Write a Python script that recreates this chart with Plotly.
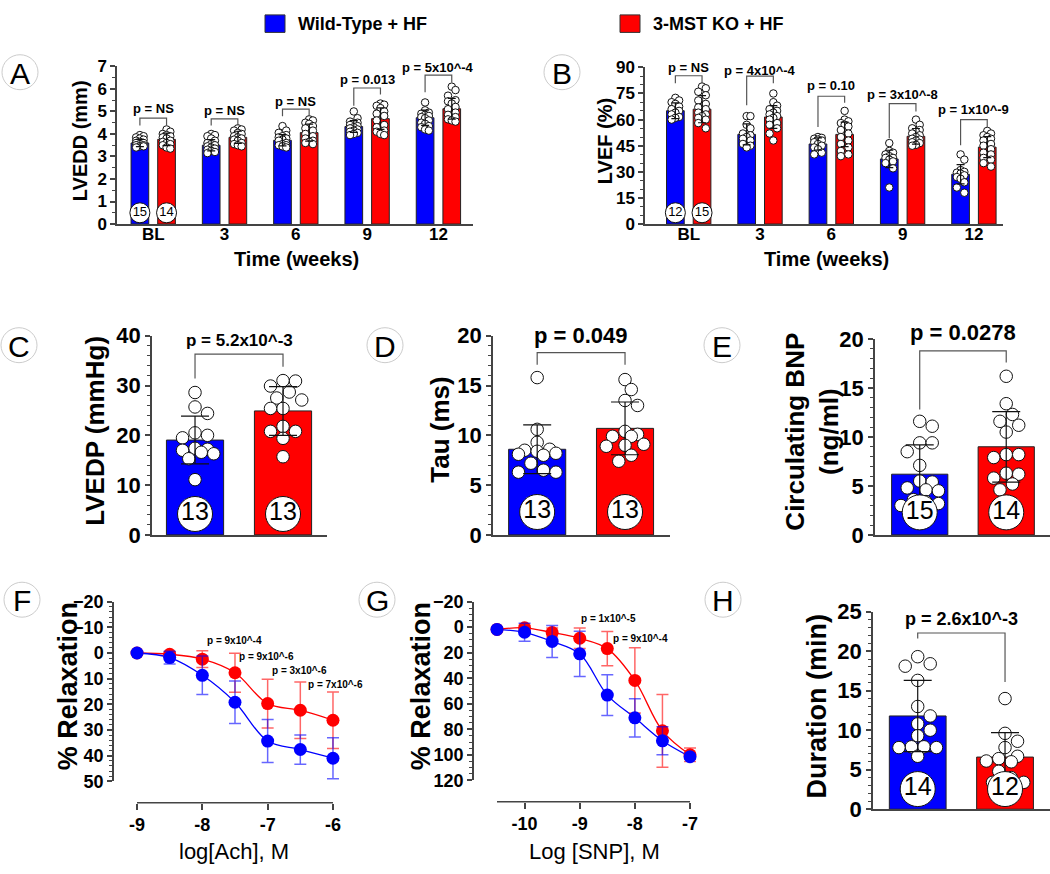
import plotly.graph_objects as go

W, H = 1050, 874
FONT = "Arial, 'Liberation Sans', Helvetica, sans-serif"
BLUE = "#0000FF"
RED = "#FF0000"
AX = "#444444"

# ---------------- data ----------------
groups = ["Wild-Type + HF", "3-MST KO + HF"]
weeks = ["BL", "3", "6", "9", "12"]

# A: LVEDD (mm)
lvedd_wt_mean = [3.60, 3.50, 3.72, 4.33, 4.72]
lvedd_ko_mean = [3.76, 3.85, 4.06, 4.68, 5.12]
lvedd_wt_sd = [0.16, 0.25, 0.25, 0.26, 0.34]
lvedd_ko_sd = [0.28, 0.27, 0.38, 0.48, 0.46]
lvedd_wt_pts = [
    [3.95, 3.9, 3.85, 3.8, 3.75, 3.7, 3.65, 3.6, 3.6, 3.55, 3.5, 3.5, 3.45, 3.45, 3.4],
    [4.0, 3.95, 3.9, 3.8, 3.7, 3.6, 3.55, 3.5, 3.45, 3.4, 3.35, 3.3, 3.25, 3.2, 3.15],
    [4.35, 4.15, 4.05, 3.95, 3.9, 3.85, 3.8, 3.75, 3.7, 3.6, 3.55, 3.5, 3.5, 3.45, 3.4],
    [5.0, 4.7, 4.55, 4.5, 4.45, 4.4, 4.35, 4.3, 4.25, 4.2, 4.15, 4.1, 4.05, 4.0, 3.95],
    [5.4, 5.05, 4.95, 4.9, 4.85, 4.8, 4.75, 4.7, 4.6, 4.5, 4.45, 4.35, 4.3, 4.2, 4.15],
]
lvedd_ko_pts = [
    [4.2, 4.1, 4.0, 3.95, 3.9, 3.85, 3.8, 3.7, 3.65, 3.6, 3.55, 3.5, 3.4, 3.35],
    [4.25, 4.2, 4.15, 4.05, 4.0, 3.9, 3.85, 3.8, 3.75, 3.7, 3.6, 3.55, 3.5, 3.45],
    [4.65, 4.6, 4.5, 4.45, 4.35, 4.25, 4.15, 4.0, 3.9, 3.8, 3.7, 3.65, 3.6, 3.55],
    [5.35, 5.3, 5.25, 5.15, 5.0, 4.9, 4.8, 4.6, 4.4, 4.3, 4.15, 4.1, 4.0, 3.95],
    [6.1, 5.95, 5.7, 5.5, 5.45, 5.35, 5.2, 5.1, 4.95, 4.85, 4.75, 4.65, 4.6, 4.55],
]
lvedd_p = ["p = NS", "p = NS", "p = NS", "p = 0.013", "p = 5x10^-4"]
lvedd_n = [15, 14]

# B: LVEF (%)
lvef_wt_mean = [65.1, 51.5, 46.0, 37.4, 28.6]
lvef_ko_mean = [66.0, 61.5, 51.5, 50.4, 44.2]
lvef_wt_sd = [4.5, 6.0, 3.5, 5.0, 5.5]
lvef_ko_sd = [7.8, 6.5, 7.0, 4.5, 6.0]
lvef_wt_pts = [
    [72.5, 71, 70, 69, 67.5, 66, 65, 64, 63, 61.5, 61, 60],
    [62, 62, 57, 55, 52, 51, 50, 49, 48, 46, 45, 44],
    [50, 49.5, 49, 48.5, 48, 47, 46, 45, 44, 43, 41, 40],
    [46.5, 42, 41, 40, 39, 38, 38, 37, 36, 35, 32, 21],
    [40, 37, 31, 30, 29.5, 29, 28, 27, 26, 24, 21, 18],
]
lvef_ko_pts = [
    [79, 78, 76, 74, 71, 69, 67, 66, 64, 63, 62, 61, 60, 58, 55],
    [75, 70, 68, 66, 65, 64, 63, 62, 61, 60, 58, 57, 55, 52, 48],
    [65, 60, 59, 58, 57, 56, 54, 52, 50, 48, 46, 44, 42, 40, 39],
    [60, 57, 55, 54, 53, 52, 51, 50, 49, 48.5, 48, 47, 46.5, 45.5, 45],
    [53.5, 52, 51, 50, 49, 48, 46, 45, 43, 41, 40, 38, 37, 35, 33],
]
lvef_p = ["p = NS", "p = 4x10^-4", "p = 0.10", "p = 3x10^-8", "p = 1x10^-9"]
lvef_n = [12, 15]

# C: LVEDP (mmHg)
lvedp_mean = [19.05, 24.9]
lvedp_sd = [4.8, 4.9]
lvedp_wt_pts = [28.6, 25.7, 24.4, 20.5, 20.0, 19.5, 17.4, 17.2, 17.0, 16.6, 16.3, 15.3, 11.1]
lvedp_ko_pts = [30.9, 31.0, 29.9, 28.7, 27.5, 27.1, 25.4, 25.4, 21.8, 20.8, 20.8, 19.4, 15.7]
lvedp_p = "p = 5.2x10^-3"
lvedp_n = [13, 13]

# D: Tau (ms)
tau_mean = [8.6, 10.7]
tau_sd = [2.45, 2.65]
tau_wt_pts = [15.8, 10.6, 9.3, 8.6, 8.5, 8.4, 8.2, 8.0, 8.1, 7.2, 6.5, 6.3, 6.3]
tau_ko_pts = [15.6, 14.6, 13.5, 13.0, 10.4, 10.1, 9.9, 9.9, 9.0, 8.9, 9.1, 8.0, 7.4]
tau_p = "p = 0.049"
tau_n = [13, 13]

# E: Circulating BNP (ng/ml)
bnp_mean = [6.2, 9.0]
bnp_sd = [3.0, 3.6]
bnp_wt_pts = [11.6, 11.1, 9.4, 9.4, 8.5, 7.1, 5.5, 5.4, 4.8, 4.6, 4.5, 3.6, 3.4, 3.2, 3.0]
bnp_ko_pts = [16.2, 13.4, 12.3, 11.6, 11.2, 10.5, 8.2, 8.2, 7.9, 6.3, 6.2, 5.8, 5.2, 4.6]
bnp_p = "p = 0.0278"
bnp_n = [15, 14]

# F: Ach relaxation
ach_logM = [-9, -8.5, -8, -7.5, -7, -6.5, -6]
ach_wt = [0, 1.8, 8.7, 19.2, 34.3, 37.6, 41.0]
ach_wt_sd = [0.5, 2.5, 7.5, 8.3, 8.4, 5.7, 8.0]
ach_ko = [0, 0.5, 2.4, 7.7, 19.7, 22.3, 26.2]
ach_ko_sd = [0.5, 1.0, 3.3, 7.6, 9.5, 11.0, 11.0]
ach_p = ["p = 9x10^-4", "p = 9x10^-6", "p = 3x10^-6", "p = 7x10^-6"]

# G: SNP relaxation
snp_logM = [-10.5, -10, -9.5, -9, -8.5, -8, -7.5, -7]
snp_wt = [1.8, 4.0, 11.2, 20.9, 53.2, 71.0, 89.0, 101.5]
snp_wt_sd = [0.5, 7.0, 12.5, 17.8, 16.0, 15.0, 11.0, 2.0]
snp_ko = [1.8, 0.5, 4.2, 8.7, 16.8, 41.7, 81.2, 100.0]
snp_ko_sd = [0.5, 2.0, 3.5, 8.0, 13.5, 25.5, 28.5, 5.3]
snp_p = ["p = 1x10^-5", "p = 9x10^-4"]

# H: Duration (min)
dur_mean = [11.8, 6.6]
dur_sd = [4.5, 3.1]
dur_wt_pts = [19.3, 18.4, 18.1, 16.3, 13.0, 11.8, 10.8, 10.0, 9.3, 7.9, 7.9, 7.8, 7.8, 6.7]
dur_ko_pts = [14.0, 9.6, 8.6, 7.8, 6.7, 6.4, 6.1, 6.0, 4.8, 4.0, 3.4, 3.4]
dur_p = "p = 2.6x10^-3"
dur_n = [14, 12]

# ---------------- helpers ----------------
fig = go.Figure()


def ax_names(k):
    return ("x", "y") if k == 1 else (f"x{k}", f"y{k}")


def px_x(p):
    return p / W


def px_y(p):
    return (H - p) / H


def swarm_offsets(vals, ppx, ppy, d, wmax):
    n = len(vals)
    order = sorted(range(n), key=lambda i: -vals[i])
    step = d * 0.5
    cands = [0.0]
    k = 1
    while k * step <= wmax + 1e-9:
        cands += [k * step, -k * step]
        k += 1
    placed = []
    offs = [0.0] * n
    for i in order:
        yp = vals[i] * ppy
        best, bestd = 0.0, -1.0
        for c in cands:
            md = min((((c - px) ** 2 + (yp - py) ** 2) ** 0.5 for px, py in placed), default=1e9)
            if md >= d * 0.95:
                best = c
                break
            if md > bestd:
                bestd, best = md, c
        offs[i] = best / ppx
        placed.append((best, yp))
    return offs


def add_bars(k, centers, off, bw, wt_m, ko_m, wt_sd, ko_sd, wt_pts, ko_pts,
             ppx, ppy, dot, wmax, cap, nlab, ny, nsize, nfont):
    xa, ya = ax_names(k)
    xb = [c - off for c in centers]
    xr = [c + off for c in centers]
    for xs, m, col in ((xb, wt_m, BLUE), (xr, ko_m, RED)):
        fig.add_trace(go.Bar(x=xs, y=m, width=bw,
                             marker=dict(color=col, line=dict(color="#222", width=1)),
                             xaxis=xa, yaxis=ya, showlegend=False, hoverinfo="skip"))
    dx, dy = [], []
    for xs, pts in ((xb, wt_pts), (xr, ko_pts)):
        for x0, vals in zip(xs, pts):
            offs = swarm_offsets(vals, ppx, ppy, dot, wmax)
            dx += [x0 + o for o in offs]
            dy += list(vals)
    fig.add_trace(go.Scatter(x=dx, y=dy, mode="markers", cliponaxis=False,
                             marker=dict(size=dot, color="white", line=dict(color="#111", width=1)),
                             xaxis=xa, yaxis=ya, showlegend=False, hoverinfo="skip"))
    fig.add_trace(go.Scatter(x=xb + xr, y=list(wt_m) + list(ko_m), mode="markers",
                             marker=dict(size=1, color="rgba(0,0,0,0)"),
                             error_y=dict(type="data", array=list(wt_sd) + list(ko_sd),
                                          color="#111", thickness=1.2, width=cap),
                             xaxis=xa, yaxis=ya, showlegend=False, hoverinfo="skip"))
    fig.add_trace(go.Scatter(x=[xb[0], xr[0]], y=[ny, ny], mode="markers+text",
                             text=[str(v) for v in nlab], textposition="middle center",
                             marker=dict(size=nsize, color="white", line=dict(color="#111", width=1)),
                             textfont=dict(size=nfont, color="black", family=FONT),
                             xaxis=xa, yaxis=ya, showlegend=False, hoverinfo="skip"))


shapes = []
annos = []


def bracket(k, x0, x1, yl0, yt, yl1, text, ytext, size, yshift=0):
    xa, ya = ax_names(k)
    shapes.append(dict(type="path", xref=xa, yref=ya,
                       path=f"M {x0},{yl0} L {x0},{yt} L {x1},{yt} L {x1},{yl1}",
                       line=dict(color="#555", width=1.2)))
    annos.append(dict(x=(x0 + x1) / 2, y=ytext, xref=xa, yref=ya, text=text, showarrow=False,
                      xanchor="center", yanchor="middle", yshift=yshift,
                      font=dict(size=size, color="black", family=FONT, weight=700)))


def text_px(x, y, text, size, bold=True, angle=0, xanchor="center"):
    annos.append(dict(x=px_x(x), y=px_y(y), xref="paper", yref="paper", text=text,
                      showarrow=False, textangle=angle, xanchor=xanchor, yanchor="middle",
                      font=dict(size=size, color="black", family=FONT, weight=700 if bold else 400)))


# ---------------- A & B ----------------
A_OFF, A_BW = 0.187, 0.248
cen5 = [0, 1, 2, 3, 4]
add_bars(1, cen5, A_OFF, A_BW, lvedd_wt_mean, lvedd_ko_mean, lvedd_wt_sd, lvedd_ko_sd,
         lvedd_wt_pts, lvedd_ko_pts, 71.3, 162.3 / 7, 7.5, 6, 4, lvedd_n, 0.5, 20, 13)
add_bars(2, cen5, A_OFF, A_BW, lvef_wt_mean, lvef_ko_mean, lvef_wt_sd, lvef_ko_sd,
         lvef_wt_pts, lvef_ko_pts, 71.3, 161.3 / 90, 7.5, 6, 4, lvef_n, 6.5, 20, 13)

a_top = [4.7, 4.67, 5.1, 6.04, 6.61]
a_l = [4.38, 4.38, 4.79, 5.25, 5.85]
a_r = [4.38, 4.38, 4.79, 5.75, 6.28]
a_t = [5.13, 5.03, 5.43, 6.4, 6.94]
for i in range(5):
    bracket(1, i - A_OFF, i + A_OFF, a_l[i], a_top[i], a_r[i], lvedd_p[i], a_t[i], 13)
b_top = [85.2, 85, 73.4, 69.2, 60]
b_l = [80.9, 68.2, 55.8, 49.3, 45.2]
b_r = [80.9, 80.9, 69.7, 64.7, 55.8]
b_t = [89.8, 88.3, 79.4, 74.4, 65.6]
for i in range(5):
    bracket(2, i - A_OFF, i + A_OFF, b_l[i], b_top[i], b_r[i], lvef_p[i], b_t[i], 13)

# ---------------- C, D, E, H ----------------
L_BW = 0.65
add_bars(3, [0.5], 0.5, L_BW, [lvedp_mean[0]], [lvedp_mean[1]], [lvedp_sd[0]], [lvedp_sd[1]],
         [lvedp_wt_pts], [lvedp_ko_pts], 88, 5.125, 12.5, 24, 14, lvedp_n, 4.2, 35, 25)
add_bars(4, [0.5], 0.5, L_BW, [tau_mean[0]], [tau_mean[1]], [tau_sd[0]], [tau_sd[1]],
         [tau_wt_pts], [tau_ko_pts], 87.8, 10.25, 12.5, 24, 14, tau_n, 2.3, 35, 25)
add_bars(5, [0.5], 0.5, L_BW, [bnp_mean[0]], [bnp_mean[1]], [bnp_sd[0]], [bnp_sd[1]],
         [bnp_wt_pts], [bnp_ko_pts], 86.5, 10.08, 12.5, 24, 14, bnp_n, 2.3, 35, 25)
add_bars(8, [0.5], 0.5, L_BW, [dur_mean[0]], [dur_mean[1]], [dur_sd[0]], [dur_sd[1]],
         [dur_wt_pts], [dur_ko_pts], 87.3, 8.136, 12.5, 24, 14, dur_n, 2.55, 35, 25)

bracket(3, 0, 1, 31.4, 36.3, 33.8, lvedp_p, 39.0, 17)
bracket(4, 0, 1, 17.1, 18.3, 17.1, tau_p, 20.0, 22)
bracket(5, 0, 1, 12.8, 18.8, 17.6, bnp_p, 20.0, 22, yshift=7)
bracket(8, 0, 1, 21.6, 22.3, 16.1, dur_p, 24.05, 18)

# ---------------- F & G ----------------
def add_curve(k, xs, wt, wt_sd, ko, ko_sd):
    xa, ya = ax_names(k)
    for ys, col in ((ko, RED), (wt, BLUE)):
        fig.add_trace(go.Scatter(x=xs, y=ys, mode="lines",
                                 line=dict(color=col, width=1.3, shape="spline", smoothing=1),
                                 xaxis=xa, yaxis=ya, showlegend=False, hoverinfo="skip"))
    for ys, sd, col, ecol in ((ko, ko_sd, RED, "rgba(255,0,0,0.6)"),
                              (wt, wt_sd, BLUE, "rgba(0,0,255,0.6)")):
        fig.add_trace(go.Scatter(x=xs, y=ys, mode="markers", cliponaxis=False,
                                 marker=dict(size=13, color=col),
                                 error_y=dict(type="data", array=sd, color=ecol, thickness=1.5, width=6),
                                 xaxis=xa, yaxis=ya, showlegend=False, hoverinfo="skip"))


add_curve(6, ach_logM, ach_wt, ach_wt_sd, ach_ko, ach_ko_sd)
add_curve(7, snp_logM, snp_wt, snp_wt_sd, snp_ko, snp_ko_sd)

f_px = [(234, 647), (266, 663), (299, 678), (335, 692)]
for (x, y), t in zip(f_px, ach_p):
    text_px(x, y, t, 10)
g_px = [(608, 624), (640, 645)]
for (x, y), t in zip(g_px, snp_p):
    text_px(x, y, t, 10)

# ---------------- axes ----------------
def TICKF(s):
    return dict(size=s, color="black", family=FONT, weight=700)


def axes(k, top, bot, rng, dtick, minor, fsize, x0, x1, xrng):
    xn = "xaxis" if k == 1 else f"xaxis{k}"
    yn = "yaxis" if k == 1 else f"yaxis{k}"
    xa, ya = ax_names(k)
    ydict = dict(domain=[px_y(bot), px_y(top)], range=rng, anchor=xa, showline=True,
                 linecolor=AX, linewidth=1.5, ticks="outside", ticklen=5, tickwidth=1.5,
                 tickcolor=AX, dtick=dtick, tick0=0, showgrid=False, zeroline=False,
                 tickfont=TICKF(fsize),
                 minor=dict(dtick=minor, ticks="outside", ticklen=3, tickcolor=AX, tickwidth=1, showgrid=False))
    xdict = dict(domain=[px_x(x0), px_x(x1)], range=xrng, anchor=ya, showline=True,
                 linecolor=AX, linewidth=1.5, ticks="", showgrid=False, zeroline=False,
                 showticklabels=False)
    return {xn: xdict, yn: ydict}


lay = {}
lay.update(axes(1, 56, 218.3, [0, 7], 1, 0.5, 17, 117, 473, [-0.508, 4.485]))
lay.update(axes(2, 57, 218.3, [0, 90], 15, 5, 17, 645, 1003, [-0.613, 4.408]))
for k in (1, 2):
    xn = "xaxis" if k == 1 else f"xaxis{k}"
    lay[xn].update(showticklabels=True, tickvals=cen5, ticktext=weeks, tickfont=TICKF(17),
                   ticklabelstandoff=-6)
lay.update(axes(3, 333.3, 538.3, [0, 40], 10, 2, 22, 152, 327, [-0.489, 1.5]))
lay.update(axes(4, 333.3, 538.3, [0, 20], 5, 1, 22, 493, 670, [-0.503, 1.512]))
lay.update(axes(5, 336.7, 538.3, [0, 20], 5, 1, 22, 875, 1050, [-0.517, 1.506]))
lay.update(axes(8, 617.3, 820.7, [0, 25], 5, 1, 22, 873, 1050, [-0.512, 1.515]))
lay.update(axes(6, 607, 792, [50, -20], 10, 2, 18, 114, 345, [-9.352, -5.816]))
lay.update(axes(7, 607, 791, [120, -20], 20, 5, 18, 474, 700, [-10.917, -6.819]))
lay["yaxis6"]["tick0"] = -20
lay["yaxis7"]["tick0"] = -20
for k, pos, tv, lo, hi in ((6, 814, [-9, -8, -7, -6], -9, -6), (7, 813, [-10, -9, -8, -7], -10.5, -7)):
    lay[f"xaxis{k}"].update(anchor="free", position=px_y(pos), showline=False, ticks="outside",
                            ticklen=6, tickwidth=1.5, tickcolor=AX, tickvals=tv,
                            ticktext=[str(v) for v in tv], showticklabels=True, tickfont=TICKF(18),
                            ticklabelstandoff=0)
    shapes.append(dict(type="line", xref=f"x{k}", yref="paper", x0=lo, x1=hi,
                       y0=px_y(pos), y1=px_y(pos), line=dict(color=AX, width=1.5)))

# ---------------- titles ----------------
text_px(80, 133, "LVEDD (mm)", 20, angle=-90)
text_px(605, 133, "LVEF (%)", 20, angle=-90)
text_px(296, 254, "Time (weeks)", 20)
text_px(826, 254, "Time (weeks)", 20)
text_px(95, 431, "LVEDP (mmHg)", 26, angle=-90)
text_px(440, 430, "Tau (ms)", 26, angle=-90)
text_px(812, 432, "Circulating BNP<br>(ng/ml)", 26, angle=-90)
text_px(68, 694, "% Relaxation", 27, angle=-90)
text_px(421, 694, "% Relaxation", 27, angle=-90)
text_px(817, 715, "Duration (min)", 27, angle=-90)
text_px(234, 864, "log[Ach], M", 22, bold=False)
text_px(594, 864, "Log [SNP], M", 22, bold=False)

# panel letters
for lab, cx, cy in (("A", 20, 62), ("B", 562, 62), ("C", 19, 343), ("D", 385, 343),
                    ("E", 722, 343), ("F", 22, 605), ("G", 377, 605), ("H", 723, 605)):
    r = 18
    shapes.append(dict(type="circle", xref="paper", yref="paper",
                       x0=px_x(cx - r), x1=px_x(cx + r), y0=px_y(cy + r), y1=px_y(cy - r),
                       line=dict(color="#cccccc", width=1)))
    text_px(cx, cy + 1, lab, 30, bold=False)

# legend
for (x0, col), name in zip(((265, BLUE), (620, RED)), groups):
    shapes.append(dict(type="rect", xref="paper", yref="paper", x0=px_x(x0), x1=px_x(x0 + 20),
                       y0=px_y(21), y1=px_y(3), fillcolor=col, line=dict(color="#333", width=1)))
    text_px(x0 + 31, 12, name, 18, xanchor="left")

fig.update_layout(width=W, height=H, margin=dict(l=0, r=0, t=0, b=0),
                  paper_bgcolor="white", plot_bgcolor="white", barmode="overlay",
                  showlegend=False, shapes=shapes, annotations=annos,
                  font=dict(family=FONT, color="black"), **lay)

fig.write_html("out.html", config={"displayModeBar": False},
               post_script="document.body.style.margin='0';")
